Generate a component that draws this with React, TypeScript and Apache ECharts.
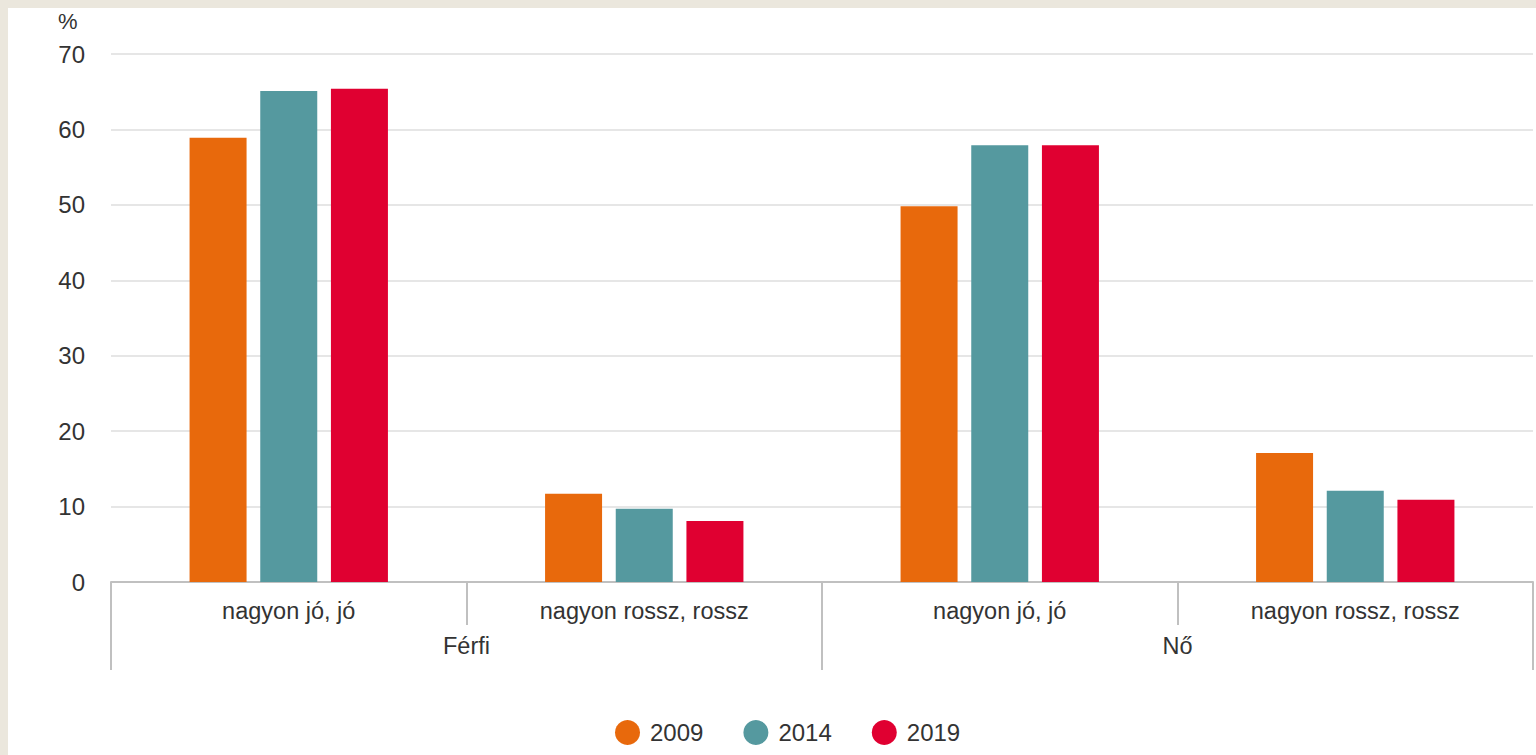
import React, { useEffect, useRef } from "react";
import * as echarts from "echarts";

const innerCategories = ["nagyon jó, jó", "nagyon rossz, rossz", "nagyon jó, jó", "nagyon rossz, rossz"];
const outerCategories = ["Férfi", "Nő"];
const seriesNames = ["2009", "2014", "2019"];
const values2009 = [58.9, 11.7, 49.8, 17.1];
const values2014 = [65.1, 9.7, 57.9, 12.1];
const values2019 = [65.4, 8.1, 57.9, 10.9];
const colors = ["#e8690c", "#55999f", "#e00031"];
const yTicks = { min: 0, max: 70, interval: 10 };

export default function App() {
  const ref = useRef<HTMLDivElement>(null);
  useEffect(() => {
    document.body.style.margin = "0";
    document.body.style.background = "#ebe7dd";
    document.documentElement.style.overflow = "hidden";
    const chart = echarts.init(ref.current!, null, { renderer: "svg" });
    const font = "Liberation Sans, Arial, sans-serif";
    const allValues = [values2009, values2014, values2019];
    chart.setOption({
      animation: false,
      backgroundColor: "#ffffff",
      textStyle: { fontFamily: font },
      color: colors,
      grid: { left: 103, right: 3, top: 46, bottom: 173, containLabel: false },
      legend: {
        left: 602,
        top: 707,
        icon: "circle",
        itemWidth: 25,
        itemHeight: 25,
        itemGap: 40,
        textStyle: { fontSize: 24, color: "#333", fontFamily: font, padding: [0, 0, 0, 5] },
        data: seriesNames,
      },
      graphic: [
        { type: "text", left: 50, top: 2, style: { text: "%", fontSize: 22, fill: "#333", fontFamily: font } },
      ],
      xAxis: [
        {
          type: "category",
          data: innerCategories,
          axisLine: { show: true, lineStyle: { color: "#c0c0c0", width: 2 } },
          axisTick: { show: true, interval: 0, length: 43, lineStyle: { color: "#c0c0c0", width: 2 } },
          axisLabel: { interval: 0, fontSize: 23.5, color: "#333", margin: 17, fontFamily: font },
        },
        {
          type: "category",
          data: outerCategories,
          position: "bottom",
          axisLine: { show: false },
          axisTick: { show: true, interval: 0, length: 88, lineStyle: { color: "#c0c0c0", width: 2 } },
          axisLabel: { interval: 0, fontSize: 23.5, color: "#333", margin: 52, fontFamily: font },
        },
      ],
      yAxis: {
        type: "value",
        min: yTicks.min,
        max: yTicks.max,
        interval: yTicks.interval,
        axisLine: { show: false },
        axisTick: { show: false },
        axisLabel: { fontSize: 24, color: "#333", margin: 26, fontFamily: font },
        splitLine: { lineStyle: { color: "#e6e6e6", width: 2 } },
      },
      series: seriesNames.map((name, i) => ({
        name,
        type: "bar",
        xAxisIndex: 0,
        data: allValues[i],
        barWidth: 57,
        barGap: "24%",
        itemStyle: { color: colors[i] },
      })),
    });
    return () => chart.dispose();
  }, []);
  return (
    <div style={{ position: "relative", width: 1536, height: 755, background: "#ebe7dd" }}>
      <div ref={ref} style={{ position: "absolute", left: 8, top: 8, width: 1528, height: 747 }} />
    </div>
  );
}
